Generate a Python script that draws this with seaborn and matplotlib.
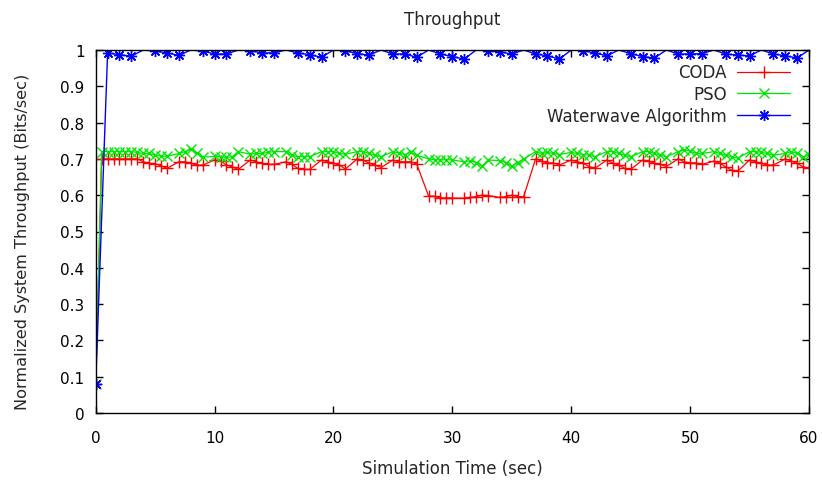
import matplotlib
matplotlib.use("Agg")
import matplotlib.pyplot as plt
import seaborn as sns
import pandas as pd

# time stamps shared by CODA and PSO
rg_time = [0, 0.5, 1, 1.5, 2, 2.5, 3, 3.5, 4, 4.5, 5, 5.5, 6,
           7, 7.5, 8, 8.5, 9,
           10, 10.5, 11, 11.5, 12,
           13, 13.5, 14, 14.5, 15,
           16, 16.5, 17, 17.5, 18,
           19, 19.5, 20, 20.5, 21,
           22, 22.5, 23, 23.5, 24,
           25, 25.5, 26, 26.5, 27,
           28, 28.5, 29, 29.5, 30,
           31, 31.5, 32, 32.5, 33,
           34, 34.5, 35, 35.5, 36,
           37, 37.5, 38, 38.5, 39,
           40, 40.5, 41, 41.5, 42,
           43, 43.5, 44, 44.5, 45,
           46, 46.5, 47, 47.5, 48,
           49, 49.5, 50, 50.5, 51,
           52, 52.5, 53, 53.5, 54,
           55, 55.5, 56, 56.5, 57,
           58, 58.5, 59, 59.5, 60]

coda = [0.08, 0.70, 0.70, 0.70, 0.70, 0.70, 0.70, 0.70, 0.692, 0.688, 0.687, 0.681, 0.674,
        0.692, 0.692, 0.688, 0.683, 0.683,
        0.697, 0.695, 0.683, 0.678, 0.671,
        0.697, 0.692, 0.688, 0.685, 0.685,
        0.692, 0.685, 0.674, 0.671, 0.671,
        0.697, 0.692, 0.688, 0.683, 0.672,
        0.700, 0.697, 0.688, 0.683, 0.676,
        0.697, 0.692, 0.692, 0.692, 0.686,
        0.598, 0.597, 0.592, 0.593, 0.592,
        0.592, 0.594, 0.596, 0.600, 0.599,
        0.594, 0.596, 0.600, 0.596, 0.596,
        0.700, 0.694, 0.689, 0.689, 0.683,
        0.697, 0.692, 0.688, 0.679, 0.674,
        0.697, 0.688, 0.683, 0.674, 0.671,
        0.697, 0.694, 0.688, 0.685, 0.679,
        0.700, 0.692, 0.689, 0.689, 0.685,
        0.694, 0.688, 0.678, 0.669, 0.666,
        0.697, 0.692, 0.688, 0.683, 0.683,
        0.700, 0.694, 0.688, 0.678, 0.674]

pso = [0.08, 0.72, 0.72, 0.72, 0.72, 0.72, 0.72, 0.718, 0.715, 0.715, 0.710, 0.708, 0.707,
       0.715, 0.720, 0.726, 0.715, 0.705,
       0.707, 0.706, 0.704, 0.706, 0.720,
       0.713, 0.715, 0.715, 0.718, 0.720,
       0.720, 0.710, 0.706, 0.706, 0.706,
       0.720, 0.720, 0.720, 0.715, 0.713,
       0.720, 0.720, 0.715, 0.710, 0.706,
       0.720, 0.716, 0.712, 0.718, 0.710,
       0.700, 0.698, 0.697, 0.698, 0.697,
       0.692, 0.695, 0.690, 0.680, 0.697,
       0.695, 0.690, 0.680, 0.690, 0.700,
       0.720, 0.715, 0.718, 0.715, 0.712,
       0.718, 0.715, 0.712, 0.710, 0.706,
       0.720, 0.720, 0.715, 0.710, 0.706,
       0.720, 0.720, 0.715, 0.710, 0.706,
       0.720, 0.725, 0.722, 0.715, 0.715,
       0.720, 0.715, 0.710, 0.706, 0.702,
       0.720, 0.720, 0.718, 0.715, 0.710,
       0.715, 0.720, 0.715, 0.706, 0.710]

ww_time = list(range(0, 61))
waterwave = [0.08, 0.992, 0.987, 0.983, 1.0, 0.997, 0.992, 0.985, 1.0, 0.997,
             0.989, 0.989, 1.0, 0.998, 0.992, 0.992, 1.0, 0.992, 0.987, 0.980,
             1.0, 0.998, 0.990, 0.986, 1.0, 0.989, 0.989, 0.980, 1.0, 0.989,
             0.982, 0.975, 1.0, 0.998, 0.995, 0.989, 1.0, 0.989, 0.984, 0.975,
             1.0, 0.998, 0.992, 0.984, 1.0, 0.990, 0.982, 0.978, 1.0, 0.989,
             0.989, 0.990, 1.0, 0.989, 0.986, 0.984, 1.0, 0.989, 0.984, 0.978,
             1.0]

x_ticks = [0, 10, 20, 30, 40, 50, 60]
y_ticks = [0, 0.1, 0.2, 0.3, 0.4, 0.5, 0.6, 0.7, 0.8, 0.9, 1]

sns.set_style("ticks")
plt.rcParams['font.family'] = ['DejaVu Sans']

fig = plt.figure(figsize=(8.22, 4.81), dpi=100)
ax = fig.add_axes([95.7 / 822, 1 - 414 / 481, (809 - 95.7) / 822, (414 - 51) / 481])

df_coda = pd.DataFrame({"t": rg_time, "v": coda})
df_pso = pd.DataFrame({"t": rg_time, "v": pso})
df_ww = pd.DataFrame({"t": ww_time, "v": waterwave})

red, green, blue = "#ff0000", "#00e600", "#0000ff"

sns.lineplot(data=df_coda, x="t", y="v", ax=ax, color=red, marker="+",
             markersize=8, markeredgewidth=1.0, markeredgecolor=red,
             linewidth=0.9, label="CODA", estimator=None, sort=False)
sns.lineplot(data=df_pso, x="t", y="v", ax=ax, color=green, marker="x",
             markersize=6.5, markeredgewidth=1.0, markeredgecolor=green,
             linewidth=0.9, label="PSO", estimator=None, sort=False)
ww_mark = [v < 1.0 for v in waterwave]
sns.lineplot(data=df_ww, x="t", y="v", ax=ax, color=blue, marker=(8, 2, 0),
             markersize=8, markeredgewidth=1.0, markeredgecolor=blue,
             linewidth=1.0, label="Waterwave Algorithm", markevery=ww_mark,
             estimator=None, sort=False)

ax.set_xlim(0, 60)
ax.set_ylim(0, 1)
ax.set_xticks(x_ticks)
ax.set_yticks(y_ticks)
ax.set_xticklabels([f"{v:g}" for v in x_ticks])
ax.set_yticklabels([f"{v:g}" for v in y_ticks])
ax.tick_params(direction="in", length=5, width=1, top=True, right=True,
               labelsize=11, colors="black")
ax.tick_params(axis="x", pad=12)
ax.tick_params(axis="y", pad=8)
for s in ax.spines.values():
    s.set_visible(True)
    s.set_color("black")
    s.set_linewidth(1.0)

ax.set_xlabel("Simulation Time (sec)", fontsize=12, labelpad=10)
ax.set_ylabel("Normalized System Throughput (Bits/sec)", fontsize=11.6)
ax.yaxis.set_label_coords(-0.092, 0.474)
ax.set_title("Throughput", fontsize=12, pad=19)

leg = ax.legend(loc="upper right", frameon=False, markerfirst=False,
                fontsize=12, handlelength=3.2, handletextpad=0.6,
                labelspacing=0.23, borderaxespad=0.3, bbox_to_anchor=(0.99, 0.995))

fig.savefig("out.png", dpi=100, facecolor="white")
